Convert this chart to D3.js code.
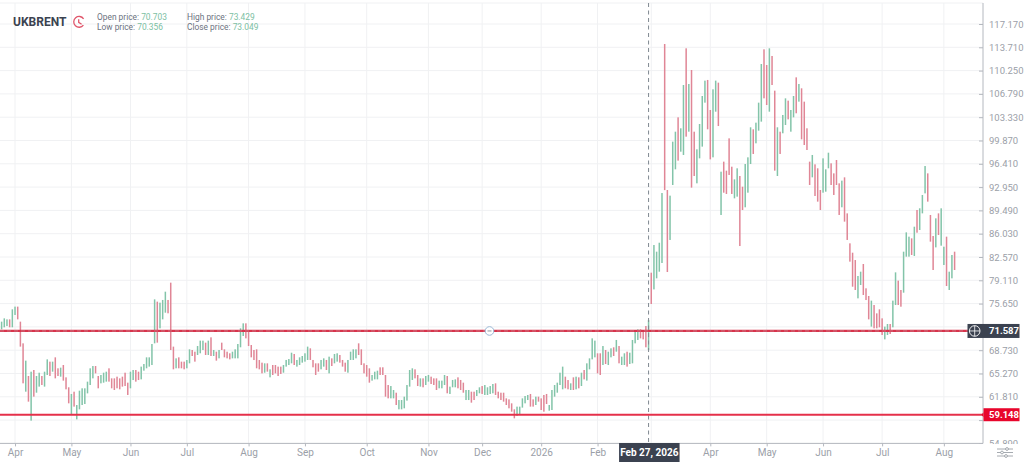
<!DOCTYPE html>
<html>
<head>
<meta charset="utf-8">
<script src="https://cdn.jsdelivr.net/npm/d3@7"></script>
<style>
  html, body { margin: 0; padding: 0; background: #fff; overflow: hidden; }
  text { font-family: Roboto, sans-serif; }
</style>
</head>
<body>
<div id="chart"></div>
<script>
/* DATA, one row per ten bars */
const highs = [
72.97,73.46,73.31,73.31,74.80,75.20,75.20,72.97,69.75,67.18,
64.90,65.54,65.79,64.90,65.39,64.90,65.54,67.37,67.03,67.03,
67.67,66.04,66.14,66.53,64.70,63.22,62.23,62.57,60.59,62.72,
63.07,63.07,64.06,66.04,66.38,66.38,64.90,65.05,65.39,65.54,
66.04,64.55,64.55,64.80,64.55,64.80,65.39,63.91,65.54,65.79,
65.79,65.54,66.29,66.68,67.67,67.67,69.65,76.28,75.94,75.79,
76.19,77.42,76.19,78.76,69.26,67.52,67.67,67.03,67.03,67.27,
68.86,68.76,68.51,69.35,70.15,70.15,69.85,70.15,70.64,68.76,
68.51,68.76,69.85,68.86,68.51,68.27,68.51,68.86,69.65,71.98,
72.72,72.72,71.73,69.50,68.76,68.86,67.27,66.88,66.78,66.78,
65.89,66.53,66.53,66.29,66.29,66.53,67.28,67.42,68.36,68.17,
67.28,67.67,67.87,68.27,69.26,69.01,67.28,66.78,66.78,67.28,
67.52,67.28,67.77,67.52,68.17,68.27,68.02,67.28,66.88,67.28,
68.51,68.86,68.86,69.75,68.86,66.78,66.53,66.04,65.05,65.54,
65.69,66.19,66.19,65.05,63.56,63.41,62.82,62.42,61.33,61.33,
61.83,63.56,65.79,66.04,65.89,65.05,64.55,64.55,64.90,65.05,
64.80,64.55,64.55,64.21,64.21,65.05,64.90,63.32,64.31,64.40,
64.70,64.31,63.91,62.82,62.82,62.57,62.57,62.82,63.22,63.41,
63.56,63.22,63.41,63.71,63.81,62.57,62.42,62.42,61.58,61.43,
60.84,59.95,60.35,60.35,61.58,61.93,62.08,62.23,61.43,61.83,
61.83,61.58,62.08,62.23,60.59,62.82,63.56,63.91,65.39,66.29,
64.80,64.30,63.81,64.70,64.80,64.70,65.39,65.79,66.78,67.52,
70.49,70.15,68.27,68.27,69.35,68.76,68.51,69.01,69.16,70.25,
69.35,67.77,68.27,68.51,68.36,70.25,71.73,71.83,71.83,71.73,
72.32,73.21,80.24,84.35,83.36,84.69,92.07,114.20,92.52,91.68,
99.70,101.18,103.31,101.68,108.11,113.56,108.26,110.34,101.18,98.56,
102.32,106.48,108.76,108.86,104.40,107.47,108.76,108.46,95.24,96.73,
95.39,100.19,95.98,94.10,95.74,94.60,93.01,96.38,97.37,101.83,
101.53,102.52,105.49,111.23,113.41,111.08,113.56,112.42,107.27,101.83,
101.18,103.66,106.13,105.79,104.40,106.48,109.25,108.26,107.62,105.64,
101.68,96.73,97.72,96.33,95.74,92.52,97.22,95.59,98.06,96.48,
94.99,96.97,93.51,93.91,94.40,89.05,84.60,83.21,82.12,79.75,
80.39,81.53,77.92,76.78,76.09,75.44,74.20,74.80,73.46,72.23,
72.62,72.62,76.09,80.29,79.06,77.67,83.36,86.23,85.59,85.34,
87.07,89.55,89.80,91.78,96.08,94.99,88.81,85.69,88.31,89.05,
89.80,84.10,85.59,80.39,82.87,83.36
];
const lows = [
71.83,72.13,72.32,72.13,72.13,73.96,73.31,69.26,63.81,62.57,
61.09,58.27,61.83,62.42,63.32,63.56,63.32,65.05,64.90,65.54,
64.55,64.90,64.80,64.21,62.92,60.84,59.26,60.35,58.46,59.95,
60.59,60.74,62.32,63.56,64.55,65.29,63.07,63.81,63.91,64.06,
64.06,63.07,62.82,63.07,62.92,63.32,63.41,62.08,63.07,64.30,
64.06,64.30,64.40,65.69,66.04,66.29,66.53,69.75,69.85,71.98,
73.31,74.30,74.21,68.76,65.89,66.04,66.04,66.04,65.89,66.04,
66.78,67.87,67.03,68.02,68.27,68.76,68.02,68.02,67.87,67.87,
67.18,67.52,68.76,67.67,67.52,67.37,67.52,67.52,67.52,69.16,
70.84,70.49,69.35,67.67,67.27,66.04,65.89,65.29,65.39,65.54,
64.70,65.05,65.29,64.90,65.20,65.39,66.29,66.53,66.78,66.53,
66.29,66.53,66.88,67.03,67.28,67.28,66.19,65.05,65.54,65.89,
66.29,65.79,65.29,66.38,66.78,67.03,66.88,66.29,65.54,65.39,
67.28,67.28,67.52,68.02,66.53,65.29,64.80,63.91,64.21,64.40,
64.40,65.05,65.05,61.83,61.58,61.58,61.58,60.59,59.95,59.95,
60.10,61.24,63.32,64.31,64.55,63.41,63.32,63.22,63.56,64.06,
63.71,63.56,62.82,63.07,63.07,63.56,62.33,62.23,63.22,63.22,
63.07,62.82,62.42,61.33,61.33,60.94,61.33,61.93,62.33,62.23,
62.08,62.08,62.23,62.33,62.08,61.58,61.33,61.09,60.59,60.10,
59.60,58.61,58.96,59.11,60.20,60.84,61.33,60.35,60.35,60.59,
61.09,59.85,59.60,60.74,59.75,59.85,61.83,62.42,63.56,62.92,
63.07,62.92,62.82,62.82,62.92,63.07,63.41,64.40,64.21,65.89,
67.37,67.67,65.29,65.05,66.53,66.68,66.53,67.67,67.87,68.51,
66.78,66.53,66.53,66.29,66.68,66.78,69.75,70.25,70.49,70.34,
69.16,68.76,75.59,77.76,79.40,80.39,81.68,92.50,80.34,85.10,
93.26,95.59,96.88,98.21,97.72,100.44,101.18,92.87,94.60,93.51,
97.22,98.96,105.49,101.53,97.07,97.37,104.15,102.02,88.81,92.12,
91.93,94.75,91.93,91.28,91.53,84.20,89.55,89.95,92.12,96.38,
97.87,99.45,101.33,102.67,106.13,105.14,104.15,108.11,95.39,94.60,
97.87,100.94,102.17,103.01,101.18,103.31,103.91,105.64,100.04,99.20,
98.46,93.26,94.40,91.63,90.79,89.55,92.12,92.27,95.74,93.26,
91.78,93.26,88.81,89.95,87.82,85.10,81.88,78.16,77.67,76.43,
78.41,76.93,76.18,73.31,72.23,71.98,71.98,72.13,70.99,70.34,
70.99,71.14,72.13,75.44,75.44,75.19,77.27,82.62,82.62,82.87,
82.72,86.18,86.58,89.05,92.02,90.79,84.85,80.64,84.00,85.84,
84.25,81.38,78.26,77.67,79.40,80.64
];
// 1 = closed up (green), 0 = closed down (red)
const ups = [
1,1,1,0,1,1,0,0,0,1,
0,1,0,1,1,0,1,1,0,1,
0,0,1,0,0,0,1,0,1,1,
1,1,1,1,1,0,0,1,1,1,
0,0,0,0,0,0,0,0,1,1,
0,0,1,1,1,1,1,1,0,1,
1,1,0,0,0,1,0,0,0,1,
1,0,0,1,1,1,0,1,0,1,
0,1,0,0,0,0,1,1,1,1,
1,0,0,0,0,0,0,0,1,0,
1,0,0,0,0,1,1,1,1,0,
1,1,1,1,1,0,0,0,0,1,
1,0,1,0,1,1,0,0,0,1,
1,1,1,0,0,0,0,0,1,1,
1,0,0,0,0,1,1,0,1,1,
1,1,1,1,0,0,1,0,1,1,
0,0,0,1,1,1,0,1,1,1,
0,0,0,1,1,0,0,1,1,0,
1,1,1,1,0,0,0,0,0,0,
0,0,1,1,1,1,1,0,0,1,
0,0,0,0,1,1,1,1,1,1,
0,0,1,0,1,0,1,0,1,1,
1,1,0,0,1,0,1,1,0,1,
0,1,1,0,1,1,1,1,0,0,
0,1,0,1,1,1,1,0,0,1,
1,1,0,1,1,0,1,0,0,1,
1,1,1,0,0,1,1,0,1,0,
0,0,0,1,1,0,0,1,1,1,
0,1,1,1,0,0,1,0,0,1,
0,1,1,0,1,1,0,1,0,0,
0,0,1,0,0,0,1,1,1,0,
0,0,0,1,0,0,0,0,0,1,
1,0,0,0,1,0,0,0,0,1,
1,0,1,1,0,0,1,1,1,0,
1,0,1,1,1,0,0,0,1,0,
1,1,0,1,1,0
];

// price axis labels (the two under the price tags are left blank)
const priceTicks = [117.17,113.71,110.25,106.79,103.33,99.87,96.41,92.95,89.49,86.03,82.57,79.11,75.65,72.19,68.73,65.27,61.81,58.35,54.89];
const hiddenPriceTicks = [72.19,58.35];
// month labels and the bar they sit on
const monthLabels = ["Apr","May","Jun","Jul","Aug","Sep","Oct","Nov","Dec","2026","Feb","","Apr","May","Jun","Jul","Aug"];
const monthBars = [5,26,48,69,92,113,136,159,179,201,222,242,264,285,306,328,351];

const upperLevel = 71.587;
const lowerLevel = 59.148;
const crossBar = 241;
const crossLabel = "Feb 27, 2026";

const ticker = "UKBRENT";
const quoteLabels = ["Open price:","Low price:","High price:","Close price:"];
const quoteValues = ["70.703","70.356","73.429","73.049"];

/* CONSTANTS */
const width = 1024, height = 463;
const plotRight = 983, plotTop = 3, plotBottom = 443.4;
const green = "#83c4a9", red = "#e08696";
const axisGrey = "#b4b8bf", labelGrey = "#9ba0a8", gridGrey = "#f0f1f3", dark = "#3b4250";

/* SCALES */
const xScale = d3.scaleLinear().domain([0, highs.length - 1]).range([1.6, 954.6]);
const yScale = d3.scaleLinear().domain([117.17, 54.89]).range([24, plotBottom]);

const svg = d3.select("#chart").append("svg")
  .attr("width", width).attr("height", height)
  .style("display", "block");

// the lowest price label is cut off by the time axis
svg.append("defs").append("clipPath").attr("id", "axisClip")
  .append("rect").attr("x", -6).attr("y", 0).attr("width", 60).attr("height", plotBottom + 0.5);

/* GRID */
svg.append("g").selectAll("line").data(priceTicks).join("line")
  .attr("x1", 0).attr("x2", plotRight)
  .attr("y1", d => yScale(d)).attr("y2", d => yScale(d))
  .attr("stroke", gridGrey);
svg.append("g").selectAll("line").data(monthBars).join("line")
  .attr("x1", d => xScale(d)).attr("x2", d => xScale(d))
  .attr("y1", plotTop).attr("y2", plotBottom)
  .attr("stroke", gridGrey);
svg.append("line").attr("x1", 0).attr("x2", plotRight).attr("y1", plotTop).attr("y2", plotTop).attr("stroke", gridGrey);

/* BARS */
svg.append("g").selectAll("rect").data(highs).join("rect")
  .attr("x", (d, i) => xScale(i) - 0.75)
  .attr("width", 1.5)
  .attr("y", d => yScale(d))
  .attr("height", (d, i) => yScale(lows[i]) - yScale(d))
  .attr("fill", (d, i) => ups[i] ? green : red);

/* AXES */
const priceAxis = d3.axisRight(yScale)
  .tickValues(priceTicks)
  .tickFormat(d => hiddenPriceTicks.includes(d) ? "" : d3.format(".3f")(d))
  .tickSizeInner(-4).tickSizeOuter(0).tickPadding(6);
const priceG = svg.append("g")
  .attr("transform", `translate(${plotRight},0)`)
  .attr("clip-path", "url(#axisClip)")
  .call(priceAxis);
priceG.select(".domain").remove();
priceG.selectAll("line").attr("stroke", axisGrey);
priceG.selectAll("text").attr("fill", labelGrey).style("font-size", "9.5px").style("font-family", "Roboto");
svg.append("line").attr("x1", plotRight).attr("x2", plotRight).attr("y1", plotTop).attr("y2", plotBottom).attr("stroke", axisGrey);

const timeAxis = d3.axisBottom(xScale)
  .tickValues(monthBars)
  .tickFormat((d, i) => monthLabels[i])
  .tickSizeInner(3).tickSizeOuter(0).tickPadding(3);
const timeG = svg.append("g").attr("transform", `translate(0,${plotBottom})`).call(timeAxis);
timeG.select(".domain").remove();
timeG.selectAll("line").attr("stroke", axisGrey);
timeG.selectAll("text").attr("fill", labelGrey).style("font-size", "10px").style("font-family", "Roboto");
svg.append("line").attr("x1", 0).attr("x2", plotRight).attr("y1", plotBottom).attr("y2", plotBottom).attr("stroke", axisGrey);

/* CROSSHAIR */
const crossX = xScale(crossBar);
svg.append("line").attr("x1", crossX).attr("x2", crossX).attr("y1", plotTop).attr("y2", plotBottom)
  .attr("stroke", "#7f8890").attr("stroke-dasharray", "4,3.5");

/* LEVEL LINES */
const upperY = yScale(upperLevel), lowerY = yScale(lowerLevel);
svg.append("line").attr("x1", 0).attr("x2", plotRight).attr("y1", upperY).attr("y2", upperY)
  .attr("stroke", "#d8344c").attr("stroke-width", 2.2);
svg.append("line").attr("x1", 0).attr("x2", plotRight).attr("y1", upperY).attr("y2", upperY)
  .attr("stroke", "#c98c97").attr("stroke-width", 0.7).attr("stroke-dasharray", "4,3");
svg.append("line").attr("x1", 0).attr("x2", plotRight).attr("y1", lowerY).attr("y2", lowerY)
  .attr("stroke", "#e5304a").attr("stroke-width", 2.2);

// drag handle on the upper line
svg.append("circle").attr("cx", 489.5).attr("cy", upperY).attr("r", 4.3)
  .attr("fill", "#fff").attr("stroke", "#9bb9d6");
svg.append("line").attr("x1", 487.5).attr("x2", 491.5).attr("y1", upperY).attr("y2", upperY).attr("stroke", "#8d949c");

/* PRICE TAGS */
svg.append("rect").attr("x", 967.5).attr("y", upperY - 7).attr("width", 52).attr("height", 14).attr("fill", dark);
svg.append("circle").attr("cx", 974.7).attr("cy", upperY).attr("r", 5.3).attr("fill", "none").attr("stroke", "#fff").attr("stroke-width", 0.9);
svg.append("path").attr("d", `M969.4,${upperY}H980M974.7,${upperY - 5.3}V${upperY + 5.3}`).attr("stroke", "#fff").attr("stroke-width", 0.8);
svg.append("text").attr("x", 989).attr("y", upperY + 3.5).attr("fill", "#fff").style("font-size", "9.5px").style("font-weight", 700).text(upperLevel.toFixed(3));

svg.append("rect").attr("x", 983.5).attr("y", lowerY - 6.5).attr("width", 36).attr("height", 13).attr("fill", "#e8062c");
svg.append("path").attr("d", `M983.5,${lowerY - 2.5}l-2,2.5l2,2.5z`).attr("fill", "#e8062c");
svg.append("text").attr("x", 989).attr("y", lowerY + 3.5).attr("fill", "#fff").style("font-size", "9.5px").style("font-weight", 700).text(lowerLevel.toFixed(3));

// date tag under the crosshair
svg.append("rect").attr("x", crossX - 29.5).attr("y", 443).attr("width", 60.5).attr("height", 19).attr("fill", dark);
svg.append("text").attr("x", crossX + 0.7).attr("y", 456).attr("text-anchor", "middle")
  .attr("fill", "#fff").style("font-size", "10px").style("font-weight", 700).text(crossLabel);

/* HEADER */
svg.append("text").attr("x", 13).attr("y", 26).attr("fill", dark)
  .style("font-size", "12px").style("font-weight", 700).text(ticker);

// clock icon
const clock = svg.append("g").attr("transform", "translate(79,22)").attr("fill", "none").attr("stroke", "#e0566b").attr("stroke-width", 1.3);
clock.append("path").attr("d", "M4.4,3.2A5.4,5.4,0,1,1,4.6,-3.2");
clock.append("path").attr("d", "M-0.3,-2.8V0.4L2.6,2.2");

const quoteX = [97, 97, 187, 187], quoteY = [20, 30, 20, 30];
quoteLabels.forEach((label, i) => {
  const t = svg.append("text").attr("x", quoteX[i]).attr("y", quoteY[i]).style("font-size", "8.4px");
  t.append("tspan").attr("fill", "#6c7280").text(label + " ");
  t.append("tspan").attr("fill", "#7cc0a3").text(quoteValues[i]);
});

/* SETTINGS ICON */
const icon = svg.append("g").attr("transform", "translate(1005,452.5)").attr("stroke", "#8f959d").attr("fill", "#fff").attr("stroke-width", 0.8);
[-3.5, 0, 3.5].forEach((dy, i) => {
  icon.append("line").attr("x1", -8).attr("x2", 8).attr("y1", dy).attr("y2", dy);
  icon.append("circle").attr("cx", [2, -3, 1][i]).attr("cy", dy).attr("r", 1.4);
});
</script>
</body>
</html>
